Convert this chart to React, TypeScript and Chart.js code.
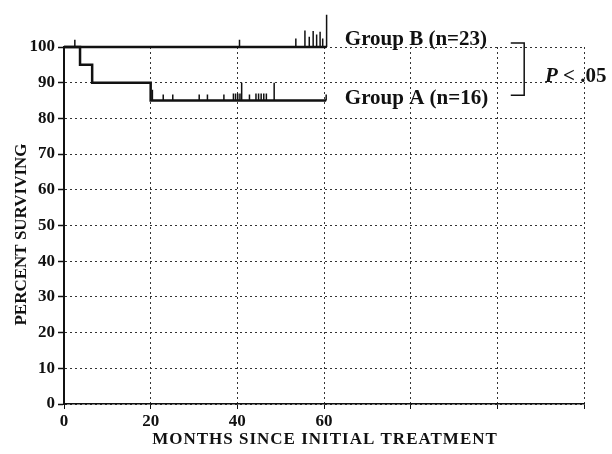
import React, { useEffect, useRef } from 'react';
import { Chart, registerables } from 'chart.js';

Chart.register(...registerables);

// Kaplan-Meier step data (months, percent surviving)
const groupATimes = [0, 3.7, 6.5, 20, 60.5];
const groupASurvival = [100, 95, 90, 85, 85];
const groupBTimes = [0, 60.5];
const groupBSurvival = [100, 100];

// Censoring marks: time and the top of each tick mark
const groupACensorTimes = [20.4, 22.9, 25.1, 31.2, 33.1, 36.9, 39.1, 39.6, 40.1, 40.6, 41.0, 42.8, 44.3, 44.9, 45.5, 46.1, 46.7, 48.5, 60.5];
const groupACensorTops = [88, 86.7, 86.7, 86.7, 86.7, 86.7, 87, 87, 87, 87, 90, 86.7, 87, 87, 87, 87, 87, 90, 86.7];
const groupBCensorTimes = [2.5, 40.5, 53.5, 55.6, 56.6, 57.5, 58.3, 59.1, 59.7, 60.6];
const groupBCensorTops = [102, 102, 102.4, 104.6, 102.9, 104.5, 103.5, 104.3, 102.4, 109];

const xLabelledTicks = [0, 20, 40, 60];
const groupLabels = ['Group B (n=23)', 'Group A (n=16)'];
const pLabel = ['P', ' < .05'];
const xTitle = 'MONTHS SINCE INITIAL TREATMENT';
const yTitle = 'PERCENT SURVIVING';

const FONT = '"Liberation Serif", "Times New Roman", serif';

function survivalAt(times: number[], surv: number[], t: number) {
  let v = surv[0];
  for (let i = 0; i < times.length; i++) if (times[i] <= t) v = surv[i];
  return v;
}

function censorPoints(times: number[], tops: number[], kmT: number[], kmS: number[]) {
  const pts: { x: number; y: number | null }[] = [];
  times.forEach((t, i) => {
    pts.push({ x: t, y: survivalAt(kmT, kmS, t) });
    pts.push({ x: t, y: tops[i] });
    pts.push({ x: t, y: null });
  });
  return pts;
}

const annotPlugin = {
  id: 'kmAnnotations',
  afterDraw(chart: any) {
    const { ctx, scales, chartArea } = chart;
    const x = scales.x;
    const y = scales.y;
    ctx.save();
    ctx.fillStyle = '#111';
    ctx.strokeStyle = '#111';
    ctx.textBaseline = 'alphabetic';
    ctx.textAlign = 'left';
    ctx.font = `bold 21px ${FONT}`;
    ctx.fillText(groupLabels[0], x.getPixelForValue(64.8), y.getPixelForValue(100.6));
    ctx.fillText(groupLabels[1], x.getPixelForValue(64.8), y.getPixelForValue(84.0));
    // bracket
    ctx.lineWidth = 1.5;
    ctx.beginPath();
    const bx0 = x.getPixelForValue(103.1);
    const bx1 = x.getPixelForValue(106.2);
    const by0 = y.getPixelForValue(101.1);
    const by1 = y.getPixelForValue(86.5);
    ctx.moveTo(bx0, by0);
    ctx.lineTo(bx1, by0);
    ctx.lineTo(bx1, by1);
    ctx.lineTo(bx0, by1);
    ctx.stroke();
    // P < .05
    const px = x.getPixelForValue(111);
    const py = y.getPixelForValue(90.3);
    ctx.font = `italic bold 21px ${FONT}`;
    ctx.fillText(pLabel[0], px, py);
    const w = ctx.measureText(pLabel[0]).width;
    ctx.font = `bold 21px ${FONT}`;
    ctx.fillText(pLabel[1], px + w, py);

    // axis titles
    ctx.textAlign = 'center';
    ctx.textBaseline = 'middle';
    ctx.font = `bold 17px ${FONT}`;
    try { (ctx as any).letterSpacing = '1px'; } catch (e) { /* ignore */ }
    ctx.fillText(xTitle, (chartArea.left + chartArea.right) / 2 + 1, chart.height - 14);
    try { (ctx as any).letterSpacing = '0px'; } catch (e) { /* ignore */ }
    ctx.translate(22, (chartArea.top + chartArea.bottom) / 2 + 9);
    ctx.rotate(-Math.PI / 2);
    ctx.fillText(yTitle, 0, 0);
    ctx.restore();
  },
};

export default function App() {
  const ref = useRef<HTMLCanvasElement>(null);
  useEffect(() => {
    const prev = document.body.style.margin;
    document.body.style.margin = '0';
    const stepLine = (times: number[], surv: number[]) => times.map((t, i) => ({ x: t, y: surv[i] }));
    const chart = new Chart(ref.current as HTMLCanvasElement, {
      type: 'line',
      data: {
        datasets: [
          {
            label: 'Group B',
            data: stepLine(groupBTimes, groupBSurvival),
            borderColor: '#111',
            borderWidth: 2.5,
            pointRadius: 0,
            stepped: true,
            fill: false,
            clip: false as any,
          },
          {
            label: 'Group A',
            data: stepLine(groupATimes, groupASurvival),
            borderColor: '#111',
            borderWidth: 2.5,
            pointRadius: 0,
            stepped: true,
            fill: false,
            clip: false as any,
          },
          {
            label: 'Group B censored',
            data: censorPoints(groupBCensorTimes, groupBCensorTops, groupBTimes, groupBSurvival) as any,
            borderColor: '#111',
            borderWidth: 1.5,
            pointRadius: 0,
            spanGaps: false,
            fill: false,
            clip: false as any,
          },
          {
            label: 'Group A censored',
            data: censorPoints(groupACensorTimes, groupACensorTops, groupATimes, groupASurvival) as any,
            borderColor: '#111',
            borderWidth: 1.5,
            pointRadius: 0,
            spanGaps: false,
            fill: false,
            clip: false as any,
          },
        ],
      },
      options: {
        responsive: false,
        animation: false,
        layout: { padding: { top: 47, right: 28, bottom: 0, left: 0 } },
        plugins: { legend: { display: false }, tooltip: { enabled: false } },
        scales: {
          x: {
            type: 'linear',
            min: 0,
            max: 120,
            afterFit: (s: any) => { s.height = 50; },
            ticks: {
              stepSize: 20,
              autoSkip: false,
              maxRotation: 0,
              padding: 2,
              color: '#111',
              font: { family: FONT, size: 17, weight: 'bold' },
              callback: (v: any) => (xLabelledTicks.includes(Number(v)) ? String(v) : ''),
            },
            grid: { color: '#333', lineWidth: 1, tickLength: 5, tickColor: '#111', tickWidth: 1, tickBorderDash: [] as any },
            border: { display: true, color: '#111', width: 1.5, dash: [2, 3] },
            title: { display: false, text: xTitle },
          },
          y: {
            type: 'linear',
            min: 0,
            max: 100,
            afterFit: (s: any) => { s.width = 64; },
            ticks: {
              stepSize: 10,
              padding: 3,
              color: '#111',
              font: { family: FONT, size: 17, weight: 'bold' },
            },
            grid: { color: '#333', lineWidth: 1, tickLength: 6, tickColor: '#111', tickWidth: 1.5, tickBorderDash: [] as any },
            border: { display: true, color: '#111', width: 2, dash: [2, 3] },
            title: { display: false, text: yTitle },
          },
        },
      },
      plugins: [annotPlugin],
    });
    return () => {
      chart.destroy();
      document.body.style.margin = prev;
    };
  }, []);
  return (
    <div style={{ position: 'relative', width: 612, height: 454, background: '#fff' }}>
      <canvas ref={ref} width={612} height={454} style={{ display: 'block' }} />
    </div>
  );
}
